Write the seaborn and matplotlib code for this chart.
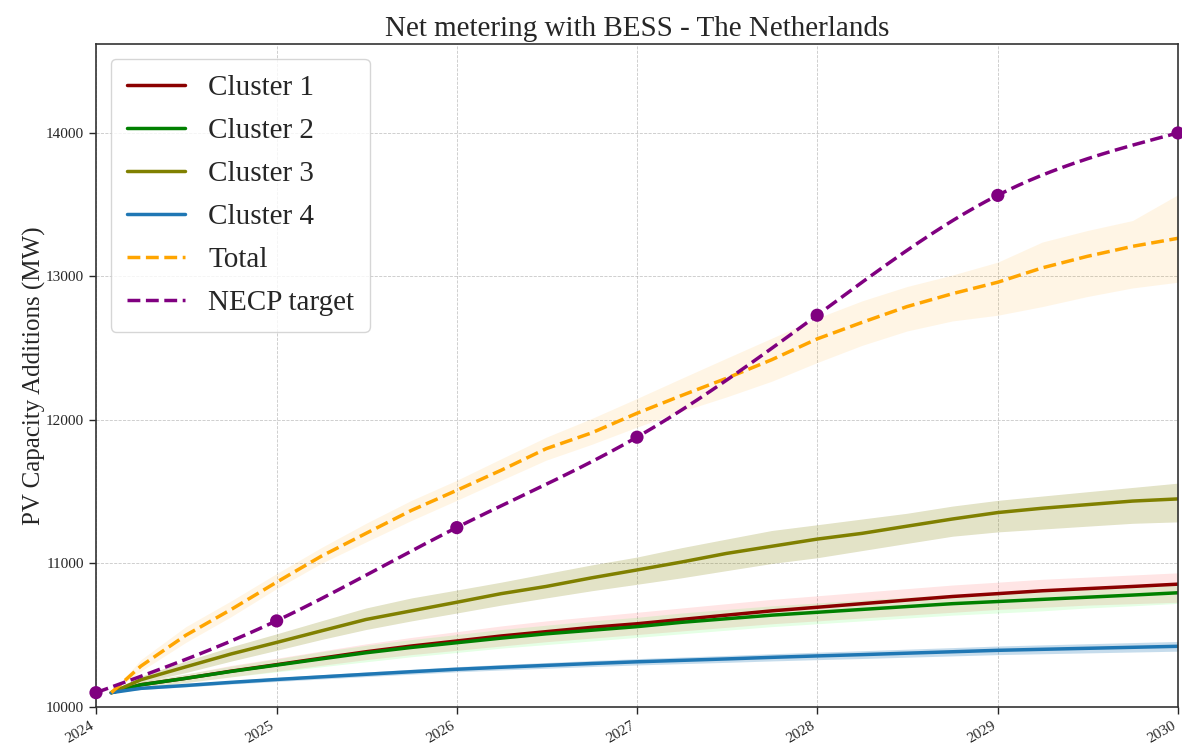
import numpy as np
import pandas as pd
import matplotlib
matplotlib.use("Agg")
import matplotlib.pyplot as plt
import matplotlib.dates as mdates
import seaborn as sns

# ---- data -------------------------------------------------------------
dates = ["2024-02-01", "2024-04-01", "2024-07-01", "2024-10-01",
         "2025-01-01", "2025-04-01", "2025-07-01", "2025-10-01",
         "2026-01-01", "2026-04-01", "2026-07-01", "2026-10-01",
         "2027-01-01", "2027-04-01", "2027-07-01", "2027-10-01",
         "2028-01-01", "2028-04-01", "2028-07-01", "2028-10-01",
         "2029-01-01", "2029-04-01", "2029-07-01", "2029-10-01",
         "2030-01-01"]

cluster1 = [10100, 10155, 10200, 10250, 10295, 10340, 10385, 10425, 10460,
            10495, 10525, 10555, 10580, 10610, 10640, 10670, 10695, 10720,
            10745, 10770, 10790, 10810, 10825, 10840, 10856]
cluster1_lo = [10100, 10135, 10170, 10210, 10250, 10290, 10330, 10365, 10395,
               10425, 10455, 10480, 10505, 10530, 10555, 10580, 10600, 10620,
               10640, 10660, 10680, 10695, 10710, 10720, 10730]
cluster1_hi = [10100, 10175, 10230, 10290, 10340, 10390, 10440, 10485, 10525,
               10565, 10600, 10630, 10660, 10690, 10720, 10750, 10775, 10800,
               10825, 10850, 10870, 10890, 10905, 10920, 10935]

cluster2 = [10100, 10155, 10200, 10248, 10292, 10335, 10378, 10415, 10448,
            10480, 10510, 10535, 10560, 10590, 10615, 10640, 10660, 10680,
            10700, 10720, 10735, 10750, 10765, 10780, 10796]
cluster2_lo = [10100, 10135, 10170, 10210, 10245, 10280, 10315, 10350, 10380,
               10410, 10435, 10460, 10485, 10510, 10535, 10560, 10580, 10600,
               10620, 10640, 10655, 10670, 10690, 10705, 10722]
cluster2_hi = [10100, 10175, 10230, 10285, 10335, 10385, 10430, 10470, 10505,
               10540, 10570, 10600, 10625, 10655, 10680, 10705, 10725, 10745,
               10765, 10785, 10800, 10815, 10830, 10845, 10860]

cluster3 = [10100, 10190, 10280, 10370, 10450, 10530, 10610, 10670, 10730,
            10790, 10840, 10900, 10955, 11010, 11070, 11120, 11170, 11210,
            11260, 11310, 11355, 11385, 11410, 11435, 11450]
cluster3_lo = [10100, 10170, 10240, 10320, 10395, 10470, 10540, 10600, 10655,
               10710, 10760, 10810, 10855, 10900, 10950, 11000, 11040, 11090,
               11140, 11190, 11220, 11240, 11260, 11280, 11290]
cluster3_hi = [10100, 10215, 10320, 10420, 10510, 10600, 10690, 10760, 10815,
               10870, 10930, 10990, 11045, 11110, 11170, 11230, 11270, 11310,
               11350, 11400, 11440, 11470, 11500, 11530, 11560]

cluster4 = [10100, 10130, 10150, 10172, 10192, 10210, 10228, 10246, 10263,
            10277, 10290, 10303, 10315, 10325, 10335, 10346, 10356, 10365,
            10375, 10385, 10395, 10402, 10409, 10416, 10423]
cluster4_lo = [10100, 10122, 10140, 10160, 10178, 10195, 10212, 10229, 10245,
               10258, 10270, 10282, 10293, 10302, 10311, 10321, 10330, 10338,
               10347, 10356, 10365, 10371, 10377, 10383, 10389]
cluster4_hi = [10100, 10138, 10160, 10184, 10206, 10225, 10244, 10263, 10281,
               10296, 10310, 10324, 10337, 10348, 10359, 10371, 10382, 10392,
               10403, 10414, 10425, 10433, 10441, 10449, 10457]

total = [10100, 10285, 10500, 10680, 10870, 11050, 11210, 11370, 11510,
         11650, 11800, 11910, 12047, 12170, 12290, 12420, 12565, 12680,
         12790, 12880, 12960, 13060, 13140, 13210, 13266]
total_lo = [10100, 10250, 10450, 10630, 10825, 11000, 11150, 11300, 11440,
            11580, 11720, 11830, 11950, 12060, 12160, 12270, 12400, 12520,
            12620, 12690, 12730, 12790, 12860, 12920, 12960]
total_hi = [10100, 10330, 10560, 10740, 10930, 11110, 11280, 11440, 11580,
            11730, 11880, 12010, 12150, 12290, 12430, 12570, 12710, 12830,
            12930, 13010, 13100, 13240, 13320, 13390, 13570]

necp_years = [2024, 2025, 2026, 2027, 2028, 2029, 2030]
necp_target = [10100, 10600, 11250, 11880, 12730, 13565, 14000]

y_ticks = [10000, 11000, 12000, 13000, 14000]


# ---- helpers ----------------------------------------------------------
def natural_cubic(x, y, xs):
    """Evaluate a natural cubic spline through (x, y) at xs."""
    x = np.asarray(x, float)
    y = np.asarray(y, float)
    n = len(x)
    h = np.diff(x)
    A = np.zeros((n, n))
    b = np.zeros(n)
    A[0, 0] = A[-1, -1] = 1.0
    for i in range(1, n - 1):
        A[i, i - 1] = h[i - 1]
        A[i, i] = 2 * (h[i - 1] + h[i])
        A[i, i + 1] = h[i]
        b[i] = 6 * ((y[i + 1] - y[i]) / h[i] - (y[i] - y[i - 1]) / h[i - 1])
    M = np.linalg.solve(A, b)
    idx = np.clip(np.searchsorted(x, xs) - 1, 0, n - 2)
    x0, x1 = x[idx], x[idx + 1]
    hh = x1 - x0
    t0, t1 = x1 - xs, xs - x0
    return (M[idx] * t0 ** 3 / (6 * hh) + M[idx + 1] * t1 ** 3 / (6 * hh)
            + (y[idx] / hh - M[idx] * hh / 6) * t0
            + (y[idx + 1] / hh - M[idx + 1] * hh / 6) * t1)


def year_to_date(yr):
    return pd.Timestamp("2024-01-01") + pd.to_timedelta((yr - 2024) * 365.25, unit="D")


# ---- figure -----------------------------------------------------------
sns.set_style("white")
plt.rcParams["font.family"] = ["Liberation Serif", "DejaVu Serif"]

fig = plt.figure(figsize=(11.82, 7.48), dpi=100)
ax = fig.add_axes([0.0812, 0.0548, 0.9154, 0.8864])

t = pd.to_datetime(dates)
series = [
    ("Cluster 1", cluster1, cluster1_lo, cluster1_hi, "darkred", "red", 0.10, "-"),
    ("Cluster 2", cluster2, cluster2_lo, cluster2_hi, "green", "lime", 0.10, "-"),
    ("Cluster 3", cluster3, cluster3_lo, cluster3_hi, "olive", "olive", 0.22, "-"),
    ("Cluster 4", cluster4, cluster4_lo, cluster4_hi, "#1f77b4", "#1f77b4", 0.25, "-"),
    ("Total", total, total_lo, total_hi, "orange", "orange", 0.10, "--"),
]

for name, vals, lo, hi, col, fcol, alpha, ls in series:
    ax.fill_between(t, lo, hi, color=fcol, alpha=alpha, linewidth=0)
for name, vals, lo, hi, col, fcol, alpha, ls in series:
    df = pd.DataFrame({"date": t, "MW": vals})
    sns.lineplot(data=df, x="date", y="MW", ax=ax, color=col, linewidth=2.5,
                 linestyle=ls, label=name)

# NECP target: smooth curve through the yearly targets plus markers
fine_years = np.linspace(necp_years[0], necp_years[-1], 300)
necp_df = pd.DataFrame({
    "date": [year_to_date(y) for y in fine_years],
    "MW": natural_cubic(necp_years, necp_target, fine_years),
})
sns.lineplot(data=necp_df, x="date", y="MW", ax=ax, color="purple",
             linewidth=2.5, linestyle="--", label="NECP target")
pts = pd.DataFrame({"date": pd.to_datetime([f"{y}-01-01" for y in necp_years]),
                    "MW": necp_target})
sns.scatterplot(data=pts, x="date", y="MW", ax=ax, color="purple", s=90,
                edgecolor="none", zorder=5, clip_on=False, legend=False)

# ---- axes styling ----------------------------------------------------
ax.set_xlim(pd.Timestamp("2024-01-01"), pd.Timestamp("2030-01-01"))
ax.set_ylim(10000, 14620)
ax.set_yticks(y_ticks)
ax.xaxis.set_major_locator(mdates.YearLocator())
ax.xaxis.set_major_formatter(mdates.DateFormatter("%Y"))
ax.tick_params(axis="both", labelsize=11, length=5, width=1, direction="out",
               bottom=True, left=True)
for lab in ax.get_xticklabels():
    lab.set_rotation(30)
    lab.set_ha("right")
ax.grid(True, linestyle="--", linewidth=0.6, color="#b0b0b0", alpha=0.7)
for sp in ax.spines.values():
    sp.set_color("#333333")
    sp.set_linewidth(1.2)

ax.set_xlabel("")
ax.set_ylabel("PV Capacity Additions (MW)", fontsize=18, labelpad=0)
ax.set_title("Net metering with BESS - The Netherlands", fontsize=21)
ax.legend(loc="upper left", fontsize=21, framealpha=0.8,
          labelspacing=0.57, borderpad=0.55)

fig.savefig("out.png", dpi=100)
